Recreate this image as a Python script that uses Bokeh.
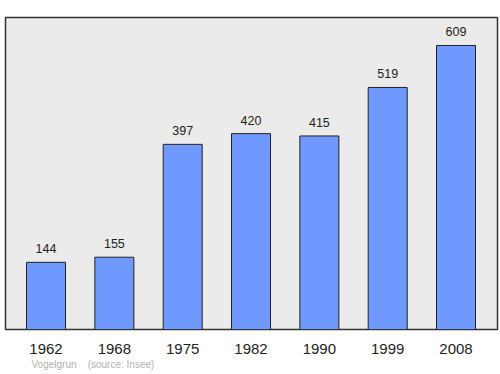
from bokeh.plotting import figure
from bokeh.models import FixedTicker, Range1d, Title, ColumnDataSource
from bokeh.core.properties import value
from bokeh.embed import file_html
from bokeh.resources import INLINE

years = ["1962", "1968", "1975", "1982", "1990", "1999", "2008"]
population = [144, 155, 397, 420, 415, 519, 609]
town = "Vogelgrun"
source_note = "(source: Insee)"

xs = list(range(len(years)))
src = ColumnDataSource(dict(x=xs, y=population, lbl=[str(v) for v in population]))

p = figure(width=500, height=374, output_backend="svg", toolbar_location=None,
           x_range=Range1d(-0.593, 6.607), y_range=Range1d(0, 669),
           min_border_left=5, min_border_right=3, min_border_top=17, min_border_bottom=45)
p.border_fill_color = "white"
p.outline_line_color = "#333333"
p.outline_line_width = 1.5
p.background_fill_color = "#ebebeb"
p.grid.visible = False
p.yaxis.visible = False

p.vbar(x="x", top="y", bottom=0, width=0.571, source=src,
       fill_color="#7099ff", line_color="#222222", line_width=1)
p.text(x="x", y="y", text="lbl", source=src, y_offset=-9,
       text_align="center", text_baseline="bottom",
       text_font=value("Liberation Sans"), text_font_size="12.5px", text_color="#222222")

ax = p.xaxis[0]
ax.ticker = FixedTicker(ticks=xs)
ax.major_label_overrides = {i: y for i, y in zip(xs, years)}
ax.axis_line_color = None
ax.major_tick_line_color = None
ax.minor_tick_line_color = None
ax.major_label_standoff = 8
ax.major_label_text_font = "Liberation Sans"
ax.major_label_text_font_size = "15px"
ax.major_label_text_color = "#222222"

footer = Title(text=town + "\u00a0\u00a0\u00a0\u00a0" + source_note, align="left", offset=26,
               text_font="Liberation Sans", text_font_size="10px", text_font_style="normal",
               text_color="#b0b0b0", standoff=0)
p.add_layout(footer, "below")

open("out.html", "w").write(file_html(p, INLINE))
